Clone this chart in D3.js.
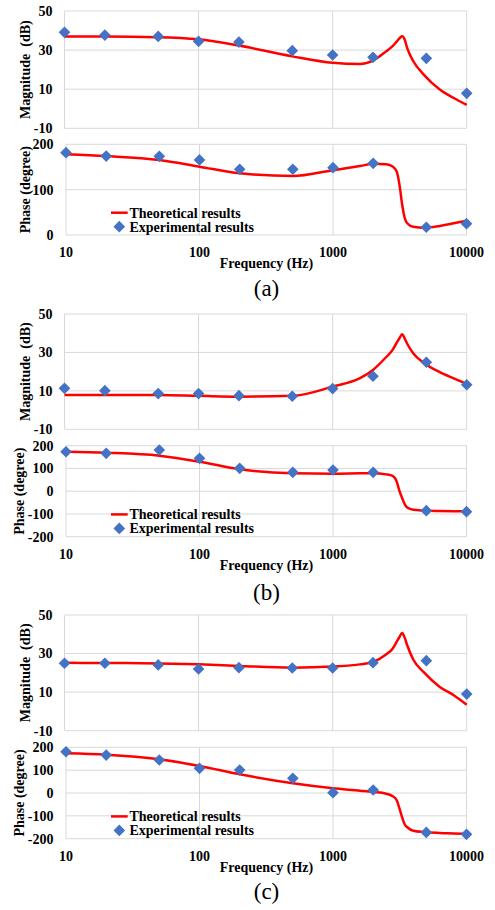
<!DOCTYPE html>
<html>
<head>
<meta charset="utf-8">
<script src="https://cdn.jsdelivr.net/npm/d3@7"></script>
<style>
  body { margin: 0; background: #fff; }
  text { font-family: "Liberation Serif", "Times New Roman", serif; }
</style>
</head>
<body>
<div id="chart"></div>
<script>
// tick labels
const freqTicks = [10, 100, 1000, 10000];
const magTicks = [-10, 10, 30, 50];
const phaseTicksA = [0, 100, 200];
const phaseTicksBC = [-200, -100, 0, 100, 200];

// measured points
const expFreq = [10, 20, 50, 100, 200, 500, 1000, 2000, 5000, 10000];
const magExpA = [39.1, 37.7, 37.0, 34.5, 34.1, 29.7, 27.5, 26.3, 25.8, 7.9];
const phaseExpA = [181.6, 174, 173.5, 165.5, 145, 145, 148.5, 158, 17, 25];
const magExpB = [11.3, 10.1, 8.6, 8.6, 7.5, 7.2, 11.2, 17.6, 24.9, 13.2];
const phaseExpB = [173.6, 166.5, 181, 144.6, 100.6, 83, 93, 83, -85.7, -90];
const magExpC = [25.0, 25.0, 24.1, 22.0, 22.7, 22.5, 22.5, 25.3, 26.3, 9.0];
const phaseExpC = [180.7, 166, 144.4, 108, 100.7, 64.3, 1.3, 13, -172.6, -181];

// theoretical curves
const theoFreq = [10, 20, 50, 100, 200, 500, 1000, 1600, 2000, 2500, 2800, 3000, 3150, 3300, 3450, 3600, 4000, 4800, 6300, 8000, 10000];
const magTheoA = [36.9, 36.9, 36.6, 35.5, 32.3, 26.8, 23.5, 22.9, 24.6, 29.3, 32.0, 34.3, 36.0, 37.1, 35.3, 31.0, 24.3, 17.3, 9.8, 5.5, 2.0];
const phaseTheoA = [178, 174, 165.5, 150.7, 136, 130, 143, 152, 157, 156, 151, 140, 110, 66, 37, 26, 18, 16, 20, 26, 31.5];
const magTheoB = [7.9, 7.9, 7.8, 7.4, 7.0, 7.4, 12.2, 16.6, 20.9, 27.5, 31.3, 35.0, 37.4, 39.4, 37.2, 34.5, 29.5, 24.5, 19.7, 16.5, 13.6];
const phaseTheoB = [173.6, 169, 156, 129.7, 96, 78.6, 77, 78.6, 79, 74, 67, 42, 0, -31, -58, -72, -82, -85, -87, -88, -88.5];
const magTheoC = [25.2, 25.1, 24.9, 24.4, 23.6, 22.7, 23.3, 24.4, 25.6, 29.5, 32.5, 36.0, 38.6, 40.7, 38.2, 34.3, 26.8, 20.2, 12.7, 8.4, 3.5];
const phaseTheoC = [173.7, 167.6, 147.5, 118, 81.8, 42.5, 20.6, 10, 4.4, -3, -14, -32, -68, -108, -138, -150, -165, -171, -175, -177, -179.4];

const panels = [
  { label: '(a)', magTop: 11, magBot: 128.3, phTop: 144.3, phBot: 235, labelY: 287.5, phTitleX: 25,
    magExp: magExpA, phExp: phaseExpA, magTheo: magTheoA, phTheo: phaseTheoA, phTicks: phaseTicksA },
  { label: '(b)', magTop: 314, magBot: 429.3, phTop: 445.7, phBot: 536.7, labelY: 591.7, phTitleX: 19.5,
    magExp: magExpB, phExp: phaseExpB, magTheo: magTheoB, phTheo: phaseTheoB, phTicks: phaseTicksBC },
  { label: '(c)', magTop: 615, magBot: 730.7, phTop: 747.3, phBot: 838.7, labelY: 890.7, phTitleX: 19.5,
    magExp: magExpC, phExp: phaseExpC, magTheo: magTheoC, phTheo: phaseTheoC, phTicks: phaseTicksBC },
];

const W = 495, H = 910;
const gridColor = '#d9d9d9';
const lineColor = '#ff0000';
const dotColor = '#4472c4';

const svg = d3.select('#chart').append('svg')
  .attr('width', W)
  .attr('height', H);
svg.append('rect').attr('width', W).attr('height', H).attr('fill', '#fff');

const xMag = d3.scaleLog().domain([10, 10000]).range([64.5, 466.7]);
const xPh = d3.scaleLog().domain([10, 10000]).range([66, 466.5]);
const diamond = d3.symbol(d3.symbolSquare, 68);

function drawPlot(g, x, y, yTicks, theo, exp, labelX, title, titleX) {
  const [y0, y1] = y.range();
  // gridlines
  g.selectAll('.hg').data(yTicks).join('line')
    .attr('x1', x.range()[0]).attr('x2', x.range()[1])
    .attr('y1', d => y(d)).attr('y2', d => y(d))
    .attr('stroke', gridColor).attr('stroke-width', 1);
  g.selectAll('.vg').data(freqTicks).join('line')
    .attr('class', 'vg')
    .attr('x1', d => x(d)).attr('x2', d => x(d))
    .attr('y1', y0).attr('y2', y1)
    .attr('stroke', gridColor).attr('stroke-width', 1);
  // y tick labels
  g.selectAll('.yl').data(yTicks).join('text')
    .attr('class', 'yl')
    .attr('x', labelX).attr('y', d => y(d))
    .attr('dy', '0.35em')
    .attr('text-anchor', 'end')
    .attr('font-size', 14).attr('font-weight', 'bold')
    .text(d => d);
  // axis title
  g.append('text')
    .attr('transform', `translate(${titleX},${(y0 + y1) / 2}) rotate(-90)`)
    .attr('dy', '0.35em')
    .attr('text-anchor', 'middle')
    .attr('font-size', 14).attr('font-weight', 'bold')
    .attr('xml:space', 'preserve')
    .text(title);
  // theoretical line
  const line = d3.line()
    .x((d, i) => x(theoFreq[i]))
    .y(d => y(d))
    .curve(d3.curveMonotoneX);
  g.append('path')
    .datum(theo)
    .attr('fill', 'none')
    .attr('stroke', lineColor)
    .attr('stroke-width', 2.5)
    .attr('d', line);
  // experimental diamonds
  g.selectAll('.pt').data(exp).join('path')
    .attr('class', 'pt')
    .attr('d', diamond)
    .attr('transform', (d, i) => `translate(${x(expFreq[i])},${y(d)}) rotate(45)`)
    .attr('fill', dotColor);
}

panels.forEach(p => {
  const g = svg.append('g');
  const yMag = d3.scaleLinear().domain([-10, 50]).range([p.magBot, p.magTop]);
  const phExtent = d3.extent(p.phTicks);
  const yPh = d3.scaleLinear().domain(phExtent).range([p.phBot, p.phTop]);

  drawPlot(g.append('g'), xMag, yMag, magTicks, p.magTheo, p.magExp, 52.5, 'Magnitude  (dB)', 25);
  drawPlot(g.append('g'), xPh, yPh, p.phTicks, p.phTheo, p.phExp, 53.5, 'Phase (degree)', p.phTitleX);

  // frequency tick labels
  g.selectAll('.xl').data(freqTicks).join('text')
    .attr('class', 'xl')
    .attr('x', d => xPh(d))
    .attr('y', p.phBot + 17.5)
    .attr('dy', '0.35em')
    .attr('text-anchor', 'middle')
    .attr('font-size', 14).attr('font-weight', 'bold')
    .text(d => d);

  g.append('text')
    .attr('x', 266.5).attr('y', p.phBot + 28.5)
    .attr('dy', '0.35em')
    .attr('text-anchor', 'middle')
    .attr('font-size', 14).attr('font-weight', 'bold')
    .text('Frequency (Hz)');

  // legend
  const ly = p.phBot - 22.3;
  g.append('line')
    .attr('x1', 111).attr('x2', 127.7)
    .attr('y1', ly).attr('y2', ly)
    .attr('stroke', lineColor).attr('stroke-width', 2.5);
  g.append('text')
    .attr('x', 129.5).attr('y', ly).attr('dy', '0.35em')
    .attr('font-size', 14).attr('font-weight', 'bold')
    .text('Theoretical results');
  g.append('path')
    .attr('d', diamond)
    .attr('transform', `translate(119.3,${ly + 14}) rotate(45)`)
    .attr('fill', dotColor);
  g.append('text')
    .attr('x', 129.5).attr('y', ly + 14).attr('dy', '0.35em')
    .attr('font-size', 14).attr('font-weight', 'bold')
    .text('Experimental results');

  // panel label
  g.append('text')
    .attr('x', 266.5).attr('y', p.labelY)
    .attr('dy', '0.35em')
    .attr('text-anchor', 'middle')
    .attr('font-size', 23)
    .text(p.label);
});
</script>
</body>
</html>
